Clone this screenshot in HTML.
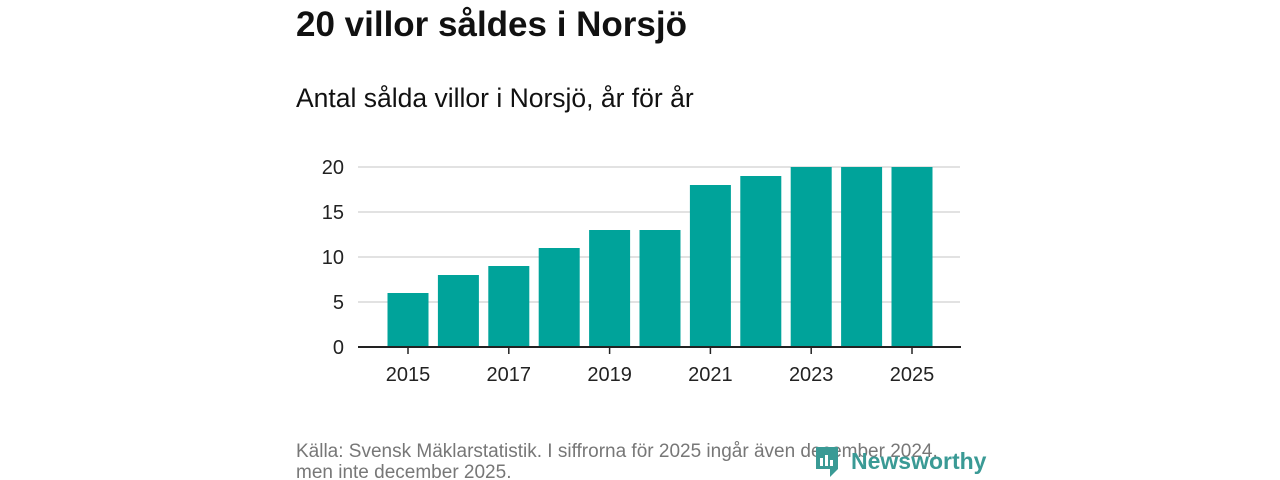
<!DOCTYPE html>
<html><head><meta charset="utf-8"><style>
body{margin:0;width:1280px;height:480px;background:#fff;overflow:hidden;font-family:"Liberation Sans",sans-serif;}
svg{position:absolute;left:0;top:0}
</style></head><body>
<svg width="1280" height="480">
<text x="296" y="36" font-size="35" font-weight="bold" fill="#111">20 villor såldes i Norsjö</text>
<text x="296" y="107" font-size="26.5" fill="#111">Antal sålda villor i Norsjö, år för år</text>
<g id="grid"></g><g id="bars"></g><g id="xt"></g>
<line x1="358" x2="961" y1="347" y2="347" stroke="#222" stroke-width="2"/>
<text x="296" y="457" font-size="19" fill="#777">Källa: Svensk Mäklarstatistik. I siffrorna för 2025 ingår även december 2024,</text>
<text x="296" y="478" font-size="19" fill="#777">men inte december 2025.</text>
<g>
<path d="M816 447h22v22l-8 8v-8h-14z" fill="#3a9a95"/>
<rect x="820" y="458" width="3" height="8" fill="#fff"/><rect x="825" y="455" width="3" height="11" fill="#fff"/><rect x="830" y="460" width="3" height="6" fill="#fff"/>
<text x="851" y="469" font-size="23" font-weight="bold" fill="#3a9a95">Newsworthy</text>
</g>
</svg>
<script>
const years=[2015,2016,2017,2018,2019,2020,2021,2022,2023,2024,2025];
const values=[6,8,9,11,13,13,18,19,20,20,20];
const yTicks=[0,5,10,15,20];
const xTickLabels=["2015","2017","2019","2021","2023","2025"];
const NS="http://www.w3.org/2000/svg";
const y=v=>347-v*9;
const x=yr=>408+(yr-2015)*50.4;
function mk(t,a,p){const e=document.createElementNS(NS,t);for(const k in a)e.setAttribute(k,a[k]);document.getElementById(p).appendChild(e);return e;}
yTicks.forEach(v=>{
 if(v>0){const l=mk('line',{x1:358,x2:960,y1:y(v),y2:y(v),stroke:'#d8d8d8','stroke-width':1.5},'grid');
 
 }
 const t=mk('text',{x:344,y:y(v)+7,'font-size':20,fill:'#222','text-anchor':'end'},'grid');t.textContent=v;
 
 
});
years.forEach((yr,i)=>{
 const r=mk('rect',{x:x(yr)-20.5,y:y(values[i]),width:41,height:values[i]*9,fill:'#00a39a'},'bars');
 
 
});
xTickLabels.forEach(s=>{
 const yr=+s;
 const l=mk('line',{x1:x(yr),x2:x(yr),y1:347,y2:354,stroke:'#222','stroke-width':1.5},'xt');
 
 
 const t=mk('text',{x:x(yr),y:381,'font-size':20,fill:'#222','text-anchor':'middle'},'xt');t.textContent=s;
 
 
});
</script>
</body></html>
